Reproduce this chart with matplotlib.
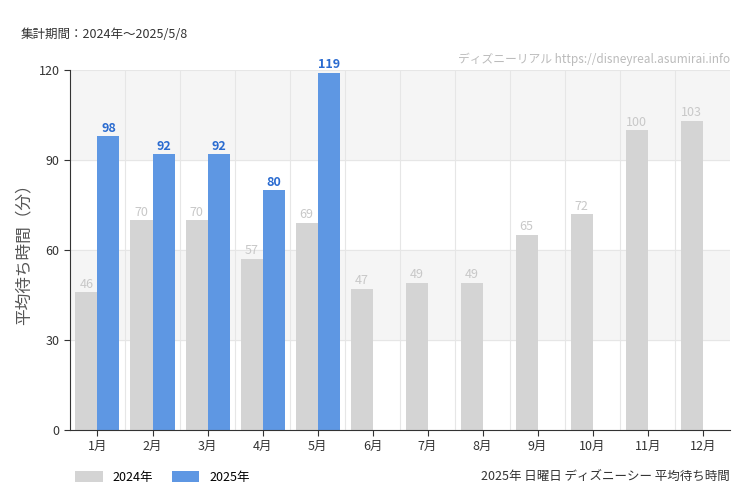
import matplotlib
matplotlib.use("Agg")
import matplotlib.pyplot as plt
import numpy as np

plt.rcParams["font.family"] = ["Noto Sans CJK JP", "DejaVu Sans"]

months = ["1月","2月","3月","4月","5月","6月","7月","8月","9月","10月","11月","12月"]
v2024 = [46,70,70,57,69,47,49,49,65,72,100,103]
v2025 = [98,92,92,80,119]
yticks = [0,30,60,90,120]

fig = plt.figure(figsize=(7.5,5), dpi=100)
ax = fig.add_axes([0.0933,0.14,0.8803,0.72])
x = np.arange(len(months))
ax.set_xlim(-0.5, len(months)-0.5)
ax.set_ylim(0,120)
for lo in (30,90):
    ax.axhspan(lo, lo+30, color="#f5f5f5", zorder=0)
for yv in yticks[1:]:
    ax.axhline(yv, color="#e6e6e6", lw=0.8, zorder=0.5)
for xv in np.arange(0.5, len(months)-0.5, 1):
    ax.axvline(xv, color="#e6e6e6", lw=0.8, zorder=0.5)
w=0.4
b1 = ax.bar(x-0.2, v2024, w, color="#d4d4d4", zorder=2, label="2024年")
b2 = ax.bar(x[:len(v2025)]+0.2, v2025, w, color="#5e97e3", zorder=2, label="2025年")
for xi,v in zip(x-0.2, v2024):
    ax.text(xi, v+0.5, str(v), ha="center", va="bottom", fontsize=9, color="#c8c8c8", fontfamily="DejaVu Sans Condensed" if False else None)
for xi,v in zip(x[:len(v2025)]+0.2, v2025):
    ax.text(xi, v+0.5, str(v), ha="center", va="bottom", fontsize=9, color="#2a6bd0", fontweight="bold")
ax.set_xticks(x)
ax.set_xticklabels(months, fontsize=9, color="#333333")
ax.set_yticks(yticks)
ax.set_yticklabels([str(t) for t in yticks], fontsize=9, color="#333333")
ax.tick_params(length=4, color="#333333")
for s in ("top","right"):
    ax.spines[s].set_visible(False)
ax.spines["left"].set_color("#333333")
ax.spines["bottom"].set_color("#333333")
ax.set_ylabel("平均待ち時間（分）", fontsize=12, color="#555555")
fig.text(0.027, 0.925, "集計期間：2024年～2025/5/8", fontsize=9, color="#333333")
fig.text(0.973, 0.875, "ディズニーリアル https://disneyreal.asumirai.info", fontsize=8.5, color="#bbbbbb", ha="right")
fig.text(0.973, 0.04, "2025年 日曜日 ディズニーシー 平均待ち時間", fontsize=9, color="#333333", ha="right")
fig.legend(handles=[b1,b2], loc="lower left", bbox_to_anchor=(0.085,0.01), ncol=2, frameon=False, fontsize=9, handlelength=2.2, handleheight=0.9, columnspacing=1.5)
fig.savefig("out.png", dpi=100)
